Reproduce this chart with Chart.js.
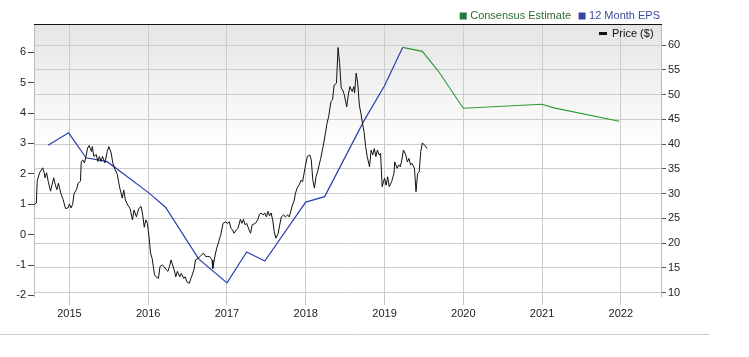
<!DOCTYPE html>
<html>
<head>
<meta charset="utf-8">
<script src="https://cdn.jsdelivr.net/npm/chart.js@4.4.1/dist/chart.umd.min.js"></script>
<style>
  html, body { margin: 0; padding: 0; background: #ffffff; }
  #wrap { width: 749px; height: 357px; position: relative; }
</style>
</head>
<body>
<div id="wrap"><canvas id="c" width="749" height="357"></canvas></div>
<script>
// ---- Data ----
const yearTicks = [2015, 2016, 2017, 2018, 2019, 2020, 2021, 2022];
const epsTicks = [-2, -1, 0, 1, 2, 3, 4, 5, 6];
const priceTicks = [10, 15, 20, 25, 30, 35, 40, 45, 50, 55, 60];

const priceDates = [
  2014.55, 2014.58, 2014.59, 2014.62, 2014.66, 2014.68, 2014.69, 2014.71, 2014.73, 2014.76,
  2014.80, 2014.82, 2014.84, 2014.86, 2014.89, 2014.92, 2014.95, 2014.98, 2015.00, 2015.02,
  2015.04, 2015.06, 2015.09, 2015.11, 2015.14, 2015.15, 2015.17, 2015.19, 2015.21, 2015.23,
  2015.25, 2015.28, 2015.29, 2015.31, 2015.34, 2015.36, 2015.38, 2015.40, 2015.42, 2015.45,
  2015.48, 2015.50, 2015.53, 2015.55, 2015.58, 2015.61, 2015.62, 2015.64, 2015.67, 2015.69,
  2015.71, 2015.74, 2015.77, 2015.80, 2015.82, 2015.85, 2015.88, 2015.91, 2015.93, 2015.95,
  2015.97, 2015.99, 2016.01, 2016.03, 2016.05, 2016.08, 2016.10, 2016.13, 2016.15, 2016.18,
  2016.20, 2016.23, 2016.25, 2016.27, 2016.29, 2016.33, 2016.35, 2016.37, 2016.40, 2016.42,
  2016.45, 2016.47, 2016.49, 2016.52, 2016.55, 2016.58, 2016.60, 2016.63, 2016.66, 2016.70,
  2016.73, 2016.75, 2016.78, 2016.81, 2016.82, 2016.85, 2016.87, 2016.89, 2016.90, 2016.92,
  2016.95, 2016.98, 2017.01, 2017.03, 2017.05, 2017.07, 2017.09, 2017.12, 2017.14, 2017.17,
  2017.19, 2017.21, 2017.23, 2017.25, 2017.28, 2017.30, 2017.32, 2017.36, 2017.39, 2017.41,
  2017.43, 2017.46, 2017.48, 2017.50, 2017.52, 2017.54, 2017.56, 2017.58, 2017.60, 2017.62,
  2017.65, 2017.67, 2017.69, 2017.72, 2017.74, 2017.77, 2017.79, 2017.81, 2017.83, 2017.85,
  2017.87, 2017.89, 2017.92, 2017.94, 2017.96, 2017.99, 2018.02, 2018.05, 2018.07, 2018.09,
  2018.11, 2018.13, 2018.15, 2018.17, 2018.19, 2018.22, 2018.25, 2018.27, 2018.29, 2018.32,
  2018.34, 2018.36, 2018.39, 2018.41, 2018.43, 2018.45, 2018.47, 2018.49, 2018.52, 2018.54,
  2018.56, 2018.59, 2018.61, 2018.62, 2018.64, 2018.66, 2018.68, 2018.70, 2018.72, 2018.74,
  2018.76, 2018.78, 2018.81, 2018.83, 2018.85, 2018.87, 2018.89, 2018.91, 2018.93, 2018.95,
  2018.97, 2019.00, 2019.02, 2019.04, 2019.06, 2019.09, 2019.12, 2019.13, 2019.16, 2019.18,
  2019.20, 2019.22, 2019.24, 2019.27, 2019.29, 2019.31, 2019.33, 2019.35, 2019.38, 2019.40,
  2019.42, 2019.44, 2019.46, 2019.48, 2019.51, 2019.54
];
const priceValues = [
  27.8, 28.1, 32.5, 34.2, 35.2, 34.2, 33.2, 34.2, 32.5, 30.5,
  33.2, 31.8, 30.8, 32.1, 30.1, 28.8, 27.0, 27.1, 27.9, 27.1,
  27.8, 30.1, 30.8, 32.1, 32.5, 36.5, 36.8, 36.2, 37.5, 39.2,
  39.7, 38.5, 39.5, 37.5, 37.9, 36.5, 37.5, 36.5, 37.5, 36.2,
  38.5, 39.5, 38.2, 36.2, 34.8, 33.8, 32.7, 31.1, 29.1, 30.7,
  28.7, 27.7, 27.0, 24.7, 26.7, 25.3, 27.0, 27.4, 25.7, 23.2,
  24.7, 24.0, 21.3, 18.0, 16.9, 13.6, 13.2, 12.9, 15.3, 15.6,
  15.3, 14.6, 14.3, 15.3, 16.6, 14.6, 13.2, 14.3, 13.2, 13.9,
  12.9, 13.2, 12.2, 11.9, 13.2, 14.6, 16.6, 16.9, 17.3, 18.0,
  17.3, 17.3, 17.3, 16.6, 14.9, 17.6, 19.0, 20.0, 20.6, 21.6,
  24.0, 24.3, 24.0, 24.3, 23.0, 22.7, 22.0, 22.7, 23.0, 24.8,
  24.0, 24.8, 23.7, 24.0, 22.7, 22.0, 23.7, 24.0, 24.7, 25.7,
  26.1, 25.7, 26.1, 25.3, 26.4, 25.5, 26.1, 24.7, 22.3, 21.0,
  22.0, 23.7, 25.3, 25.7, 25.3, 25.7, 25.3, 26.4, 27.7, 28.4,
  30.1, 31.1, 31.9, 32.7, 32.4, 35.1, 37.5, 37.8, 36.8, 32.7,
  31.1, 33.4, 34.4, 35.8, 37.1, 39.5, 42.2, 44.2, 45.5, 48.6,
  48.9, 51.9, 52.3, 59.5, 56.3, 51.3, 50.9, 49.9, 47.5, 49.9,
  51.6, 50.6, 51.6, 50.3, 54.3, 52.3, 47.9, 46.2, 44.2, 42.5,
  39.5, 37.5, 35.4, 38.8, 37.8, 39.1, 37.5, 38.8, 37.8, 38.1,
  31.4, 33.1, 31.7, 33.4, 31.4, 32.4, 34.1, 36.4, 35.1, 35.8,
  35.4, 36.8, 38.8, 37.8, 36.4, 37.1, 35.8, 36.1, 35.1, 30.4,
  34.1, 34.4, 38.5, 40.2, 39.8, 39.1
];

const epsDates  = [2014.73, 2014.99, 2015.21, 2015.48, 2016.00, 2016.22, 2016.64, 2017.00, 2017.25, 2017.48, 2018.00, 2018.24, 2018.74, 2019.00, 2019.23];
const epsValues = [2.94, 3.35, 2.53, 2.40, 1.39, 0.90, -0.80, -1.59, -0.57, -0.87, 1.07, 1.25, 3.75, 4.90, 6.16];

const estDates  = [2019.23, 2019.48, 2019.68, 2020.00, 2021.00, 2021.15, 2021.98];
const estValues = [6.16, 6.03, 5.39, 4.16, 4.29, 4.17, 3.73];

// ---- Build datasets ----
const zip = (xs, ys) => xs.map((x, i) => ({ x: x, y: ys[i] }));

const FONT = '"Liberation Sans", Arial, Helvetica, sans-serif';
Chart.defaults.font.family = FONT;
Chart.defaults.font.size = 11;
Chart.defaults.color = '#222';

const decor = {
  id: 'decor',
  beforeDraw(chart) {
    const { ctx, chartArea: a } = chart;
    ctx.save();
    const g = ctx.createLinearGradient(0, a.top, 0, a.top + 125);
    g.addColorStop(0, '#e5e5e5');
    g.addColorStop(1, '#ffffff');
    ctx.fillStyle = g;
    ctx.fillRect(a.left, a.top, a.right - a.left, a.bottom - a.top);
    ctx.restore();
  },
  afterDraw(chart) {
    const { ctx, chartArea: a } = chart;
    ctx.save();
    // top border
    ctx.strokeStyle = '#111';
    ctx.lineWidth = 1.2;
    ctx.beginPath();
    ctx.moveTo(a.left, a.top + 0.5);
    ctx.lineTo(a.right + 1, a.top + 0.5);
    ctx.stroke();
    // bottom separator
    ctx.strokeStyle = '#cccccc';
    ctx.lineWidth = 1;
    ctx.beginPath();
    ctx.moveTo(0, 334.5);
    ctx.lineTo(709, 334.5);
    ctx.stroke();
    // top legend
    ctx.font = '11px ' + FONT;
    ctx.textBaseline = 'middle';
    ctx.textAlign = 'left';
    const items = [
      { text: 'Consensus Estimate', box: '#1f7a3d', color: '#2f6b3d' },
      { text: '12 Month EPS', box: '#3347a8', color: '#3b4a9e' }
    ];
    let total = 0;
    items.forEach((it, i) => { it.w = ctx.measureText(it.text).width; total += 7 + 3.5 + it.w + (i ? 0 : 7.5); });
    let x = 660 - total;
    items.forEach((it) => {
      ctx.fillStyle = it.box;
      ctx.fillRect(x, 12.5, 7, 7);
      x += 10.5;
      ctx.fillStyle = it.color;
      ctx.fillText(it.text, x, 16);
      x += it.w + 7.5;
    });
    // price legend
    ctx.fillStyle = '#111';
    ctx.fillRect(599, 32, 8, 3);
    ctx.fillText('Price ($)', 612, 34);
    ctx.restore();
  }
};

new Chart(document.getElementById('c'), {
  type: 'line',
  data: {
    datasets: [
      { label: 'Price ($)', data: zip(priceDates, priceValues), yAxisID: 'y1',
        borderColor: '#111111', borderWidth: 1, pointRadius: 0, tension: 0 },
      { label: '12 Month EPS', data: zip(epsDates, epsValues), yAxisID: 'y',
        borderColor: '#2b3fae', borderWidth: 1.2, pointRadius: 0, tension: 0 },
      { label: 'Consensus Estimate', data: zip(estDates, estValues), yAxisID: 'y',
        borderColor: '#2a9a36', borderWidth: 1.1, pointRadius: 0, tension: 0 }
    ]
  },
  options: {
    responsive: false,
    animation: false,
    devicePixelRatio: 1,
    layout: { padding: { top: 24, right: 0, bottom: 0, left: 0 } },
    plugins: { legend: { display: false }, tooltip: { enabled: false } },
    scales: {
      x: {
        type: 'linear',
        min: 2014.55, max: 2022.51,
        afterFit(s) { s.height = 61; },
        afterBuildTicks(s) { s.ticks = yearTicks.map(v => ({ value: v })); },
        ticks: { stepSize: 1, includeBounds: false, padding: 2, maxRotation: 0,
                 callback: v => String(v), color: '#222', font: { size: 11 } },
        grid: { color: '#cccccc', tickColor: '#c4c4c4', tickLength: 9, drawTicks: true },
        border: { display: false }
      },
      y: {
        type: 'linear', position: 'left',
        min: -2.02, max: 6.93,
        afterFit(s) { s.width = 34; },
        afterBuildTicks(s) { s.ticks = epsTicks.map(v => ({ value: v })); },
        ticks: { stepSize: 1, includeBounds: false, padding: 2, color: '#222', font: { size: 11 } },
        grid: { drawOnChartArea: false, drawTicks: true, tickLength: 6, tickColor: '#444' },
        border: { display: true, color: '#bbbbbb' }
      },
      y1: {
        type: 'linear', position: 'right',
        min: 9.33, max: 64.24,
        afterFit(s) { s.width = 88; },
        afterBuildTicks(s) { s.ticks = priceTicks.map(v => ({ value: v })); },
        ticks: { stepSize: 5, includeBounds: false, padding: 2, color: '#222', font: { size: 11 } },
        grid: { color: '#cccccc', drawTicks: true, tickLength: 5, tickColor: '#555' },
        border: { display: true, color: '#bbbbbb' }
      }
    }
  },
  plugins: [decor]
});
</script>
</body>
</html>
